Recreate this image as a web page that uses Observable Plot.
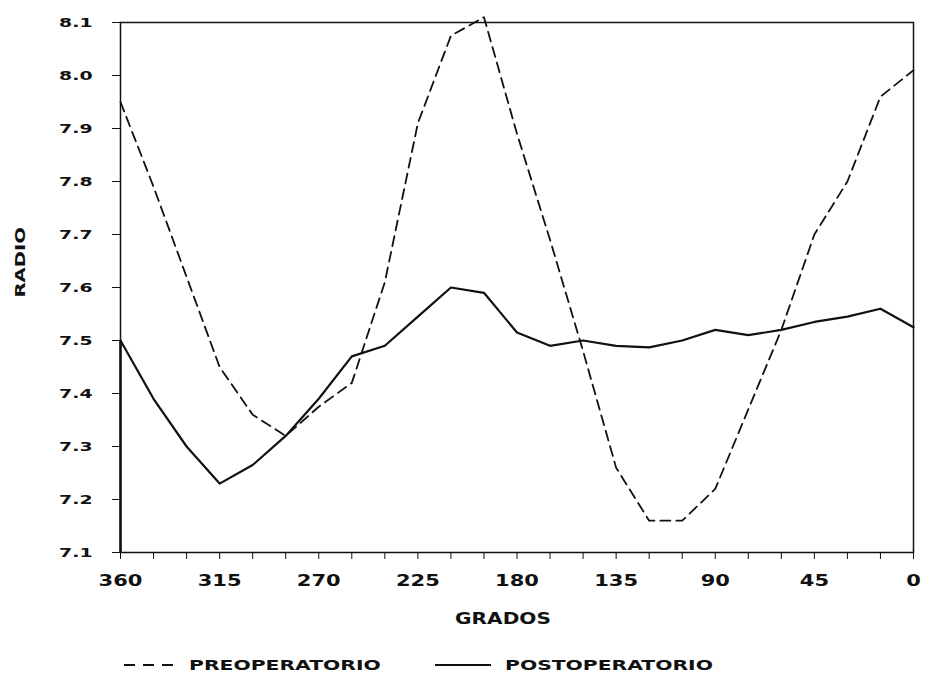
<!DOCTYPE html>
<html>
<head>
<meta charset="utf-8">
<script src="https://cdn.jsdelivr.net/npm/d3@7"></script>
<script src="https://cdn.jsdelivr.net/npm/@observablehq/plot@0.6"></script>
<style>
  html, body { margin: 0; padding: 0; background: #fff; }
  #chart { width: 927px; height: 640px; }
  .legend { position: relative; height: 39px; width: 927px; font-family: "DejaVu Sans", sans-serif; font-weight: bold; font-size: 14px; color: #111; }
  .legend .txt { position: absolute; top: 17px; line-height: 16px; white-space: nowrap; transform-origin: 0 50%; transform: scaleX(1.45); }
  .legend svg { position: absolute; top: 22px; }
</style>
</head>
<body>
<div id="chart"></div>
<div class="legend">
  <svg style="left:124px" width="54" height="6"><line x1="0" y1="3" x2="54" y2="3" stroke="#111" stroke-width="2" stroke-dasharray="11,8"></line></svg>
  <span class="txt" style="left:189px">PREOPERATORIO</span>
  <svg style="left:435px" width="56" height="6"><line x1="0" y1="3" x2="56" y2="3" stroke="#111" stroke-width="2"></line></svg>
  <span class="txt" style="left:505px">POSTOPERATORIO</span>
</div>
<script>
const grados = [360,345,330,315,300,285,270,255,240,225,210,195,180,165,150,135,120,105,90,75,60,45,30,15,0];
const preoperatorio = [7.95,7.79,7.62,7.45,7.36,7.32,7.375,7.42,7.61,7.91,8.075,8.11,7.89,7.69,7.48,7.26,7.16,7.16,7.22,7.37,7.52,7.70,7.80,7.96,8.01];
const postoperatorio = [7.50,7.39,7.30,7.23,7.265,7.32,7.39,7.47,7.49,7.545,7.60,7.59,7.515,7.49,7.50,7.49,7.487,7.50,7.52,7.51,7.52,7.535,7.545,7.56,7.525];
const xTicks = d3.range(0, 361, 15);
const xLabels = [360,315,270,225,180,135,90,45,0];
const yTicks = [7.1,7.2,7.3,7.4,7.5,7.6,7.7,7.8,7.9,8.0,8.1];

const pre = grados.map((g, i) => ({g, v: preoperatorio[i]}));
const post = grados.map((g, i) => ({g, v: postoperatorio[i]}));

const chart = Plot.plot({
  width: 927,
  height: 640,
  marginLeft: 120,
  marginRight: 14,
  marginTop: 22,
  marginBottom: 88,
  style: {fontFamily: "DejaVu Sans, sans-serif", fontWeight: "bold", color: "#111", background: "#fff"},
  x: {domain: [360, 0], range: [120, 913]},
  y: {domain: [7.1, 8.1]},
  marks: [
    Plot.frame({stroke: "#111", strokeWidth: 1.5}),
    Plot.axisX({ticks: xTicks, tickSize: 7, tickPadding: 16, label: null, stroke: "#111", fontSize: 15,
      tickFormat: d => xLabels.includes(d) ? String(d) : "", className: "xax"}),
    Plot.axisY({ticks: yTicks, tickSize: 8, tickPadding: 20, label: null, stroke: "#111", fontSize: 13,
      tickFormat: d => d.toFixed(1), className: "yax"}),
    Plot.text(["GRADOS"], {frameAnchor: "bottom", dx: -14, dy: 71, fontSize: 15, fontWeight: "bold", fill: "#111", className: "glab"}),
    Plot.text(["RADIO"], {frameAnchor: "left", dx: -100, dy: 10, rotate: -90, fontSize: 14, fontWeight: "bold", fill: "#111", className: "rlab"}),
    Plot.ruleX([grados[0]], {y1: yTicks[0], y2: postoperatorio[0], stroke: "#111", strokeWidth: 2.5}),
    Plot.line(pre, {x: "g", y: "v", stroke: "#111", strokeWidth: 1.8, strokeDasharray: "10,6"}),
    Plot.line(post, {x: "g", y: "v", stroke: "#111", strokeWidth: 2.2})
  ]
});
document.getElementById("chart").appendChild(chart);

// widen glyphs to mimic the extended lettering of the original
function stretch(sel, factor) {
  chart.querySelectorAll(sel).forEach(t => {
    const len = t.getComputedTextLength();
    if (len > 0) {
      t.setAttribute("textLength", (len * factor).toFixed(1));
      t.setAttribute("lengthAdjust", "spacingAndGlyphs");
    }
  });
}
stretch(".xax text", 1.4);
stretch(".yax text", 1.45);
stretch(".glab text", 1.34);
stretch(".rlab text", 1.4);
</script>
</body>
</html>
